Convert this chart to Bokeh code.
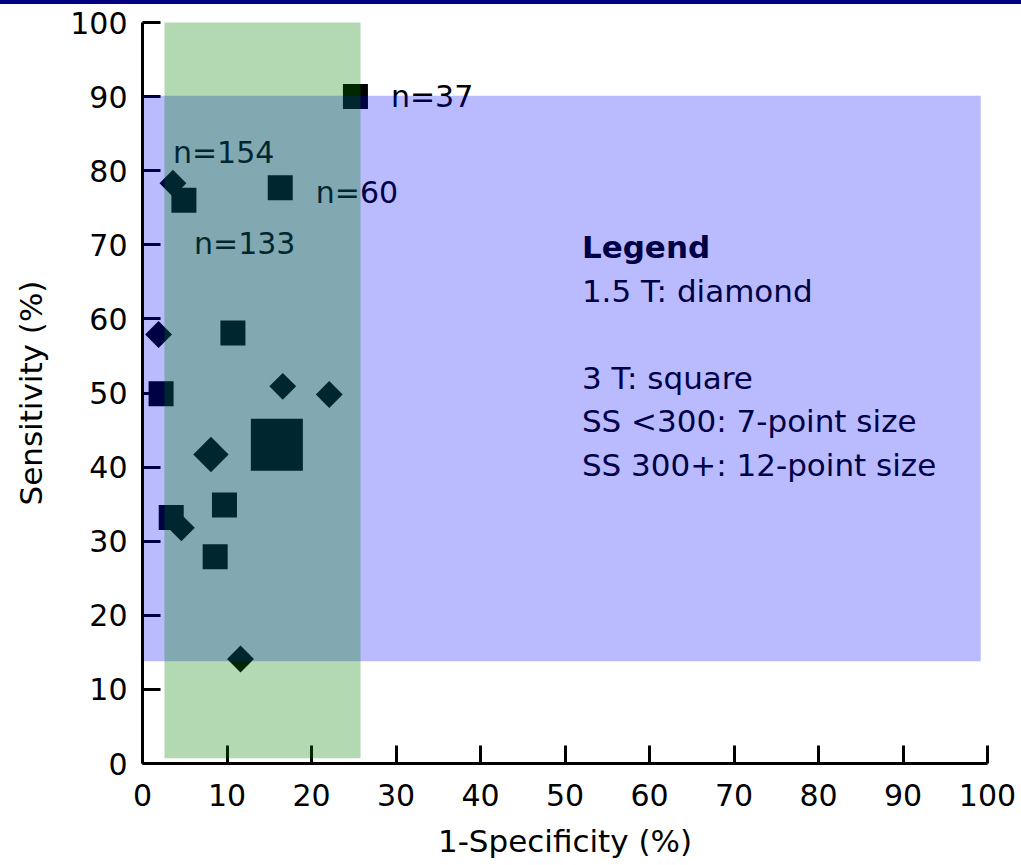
import math
from bokeh.plotting import figure
from bokeh.models import Range1d, FixedTicker, Label, Div
from bokeh.layouts import column
from bokeh.embed import file_html
from bokeh.resources import INLINE
from bokeh.core.properties import value

# ---------------- data ----------------
# 1.5 T studies (diamonds)
diamond_x = [3.6, 1.9, 16.6, 22.1, 8.1, 4.6, 11.6]
diamond_y = [78.3, 57.9, 50.9, 49.8, 41.7, 31.8, 14.1]
diamond_ss = ["<300", "<300", "<300", "<300", "300+", "<300", "<300"]

# 3 T studies (squares)
square_x = [25.2, 16.3, 4.9, 10.7, 2.2, 15.9, 9.7, 3.4, 8.6]
square_y = [90.0, 77.7, 76.0, 58.1, 49.9, 43.0, 34.9, 33.2, 27.9]
square_ss = ["<300", "<300", "<300", "<300", "<300", "300+", "<300", "<300", "<300"]

# study-size annotations
n_text = ["n=154", "n=60", "n=133", "n=37"]
n_x = [3.6, 20.5, 6.1, 29.4]
n_y = [82.5, 77.1, 70.2, 90.0]

# shaded ranges (1-specificity band, sensitivity band)
spec_band = dict(left=[2.6], right=[25.8], bottom=[0.7], top=[100.0])
sens_band = dict(left=[0.1], right=[99.2], bottom=[13.8], top=[90.1])

legend_title = "Legend"
legend_lines = ["1.5 T: diamond", "3 T: square", "SS <300: 7-point size", "SS 300+: 12-point size"]
legend_rows = [1, 3, 4, 5]
legend_x = 52.0
legend_top_y = 69.7

ticks = list(range(0, 101, 10))

# ---------------- styles ----------------
FONT = "DejaVu Sans"
DIAMOND_SIZE = {"<300": 19, "300+": 25}
SQUARE_SIZE = {"<300": 25, "300+": 52}
ROW_STEP = 43.5

p = figure(width=1021, height=861, output_backend="svg", toolbar_location=None,
           x_range=Range1d(0, 100), y_range=Range1d(0, 100),
           min_border_left=142, min_border_right=34, min_border_top=18, min_border_bottom=102)
p.outline_line_color = None
p.grid.visible = False
p.background_fill_color = "white"
p.border_fill_color = "white"

# markers
p.scatter(x=square_x, y=square_y, marker="square",
          size=[SQUARE_SIZE[s] for s in square_ss],
          fill_color="black", line_color=None)
p.scatter(x=diamond_x, y=diamond_y, marker="square", angle=math.pi / 4,
          size=[DIAMOND_SIZE[s] for s in diamond_ss],
          fill_color="black", line_color=None)

# n= labels
p.text(x=n_x, y=n_y, text=n_text, text_font=value(FONT), text_font_size="30px",
       text_align="left", text_baseline="middle", text_color="black")

# legend text
p.add_layout(Label(x=legend_x, y=legend_top_y, text=legend_title, text_font=FONT,
                   text_font_size="31px", text_font_style="bold", text_color="black",
                   text_baseline="middle", text_align="left"))
for txt, row in zip(legend_lines, legend_rows):
    p.add_layout(Label(x=legend_x, y=legend_top_y, y_offset=-row * ROW_STEP, text=txt,
                       text_font=FONT, text_font_size="31px", text_color="black",
                       text_baseline="middle", text_align="left"))

# translucent overlays drawn on top
blue = p.quad(**sens_band, fill_color="#0000ff", fill_alpha=0.27, line_color=None)
blue.level = "overlay"
green = p.quad(**spec_band, fill_color="#008000", fill_alpha=0.30, line_color=None)
green.level = "overlay"

# axes
for ax in (p.xaxis[0], p.yaxis[0]):
    ax.ticker = FixedTicker(ticks=ticks)
    ax.axis_line_width = 3
    ax.axis_line_color = "black"
    ax.major_tick_line_width = 3
    ax.major_tick_line_color = "black"
    ax.major_tick_in = 18
    ax.major_tick_out = 0
    ax.minor_tick_line_color = None
    ax.major_label_text_font = FONT
    ax.major_label_text_font_size = "30px"
    ax.major_label_text_color = "black"
    ax.axis_label_text_font = FONT
    ax.axis_label_text_font_size = "31px"
    ax.axis_label_text_font_style = "normal"
    ax.axis_label_text_color = "black"

p.xaxis.axis_label = "1-Specificity (%)"
p.yaxis.axis_label = "Sensitivity (%)"
p.xaxis.major_label_standoff = 20
p.yaxis.major_label_standoff = 15
p.xaxis.axis_label_standoff = 14
p.yaxis.axis_label_standoff = 18

bar = Div(text="", width=1021, height=4, margin=0,
          styles={"background-color": "#000080"})
layout = column(bar, p, spacing=0, margin=0)

open("out.html", "w").write(file_html(layout, INLINE))
